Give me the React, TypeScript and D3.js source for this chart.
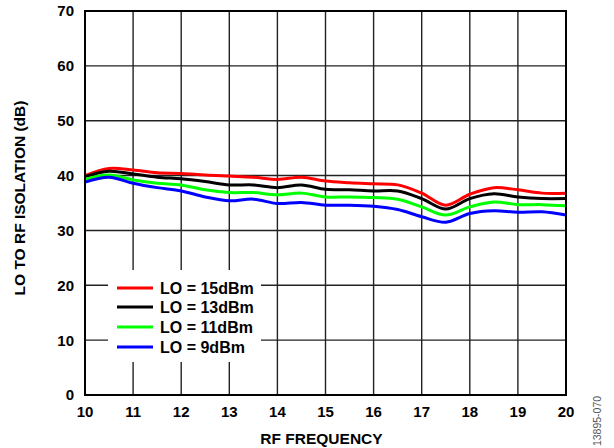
import React from "react";
import * as d3 from "d3";

const freqs = [10, 10.5, 11, 11.5, 12, 12.5, 13, 13.5, 14, 14.5, 15, 15.5, 16, 16.5, 17, 17.5, 18, 18.5, 19, 19.5, 20];
const lo15 = [40.0, 41.3, 41.0, 40.5, 40.4, 40.1, 39.9, 39.7, 39.3, 39.7, 39.0, 38.7, 38.5, 38.3, 36.8, 34.6, 36.6, 37.8, 37.4, 36.8, 36.8];
const lo13 = [39.8, 40.8, 40.3, 39.7, 39.4, 38.9, 38.3, 38.3, 37.8, 38.3, 37.5, 37.4, 37.2, 37.2, 35.8, 33.9, 35.8, 36.7, 36.1, 35.8, 35.8];
const lo11 = [39.3, 40.1, 39.2, 38.6, 38.3, 37.4, 36.9, 36.9, 36.5, 36.8, 36.1, 36.1, 36.0, 35.7, 34.3, 32.8, 34.3, 35.2, 34.7, 34.7, 34.5];
const lo9 = [38.8, 39.7, 38.6, 37.8, 37.2, 36.1, 35.4, 35.7, 34.9, 35.1, 34.6, 34.6, 34.4, 33.8, 32.5, 31.5, 33.1, 33.6, 33.3, 33.4, 32.8];

const seriesNames = ["LO = 15dBm", "LO = 13dBm", "LO = 11dBm", "LO = 9dBm"];
const seriesColors = ["#ff0000", "#000000", "#00ff00", "#0000ff"];
const seriesValues = [lo15, lo13, lo11, lo9];

const xTicks = [10, 11, 12, 13, 14, 15, 16, 17, 18, 19, 20];
const yTicks = [0, 10, 20, 30, 40, 50, 60, 70];

const FONT = "'Liberation Sans', Arial, Helvetica, sans-serif";

export default function App() {
  const W = 614, H = 448;
  const left = 85, right = 566, top = 11, bottom = 395;
  const x = d3.scaleLinear().domain([10, 20]).range([left, right]);
  const y = d3.scaleLinear().domain([0, 70]).range([bottom, top]);
  const line = d3
    .line<number>()
    .x((_, i) => x(freqs[i]))
    .y((d) => y(d))
    .curve(d3.curveCatmullRom.alpha(0.5));

  const legX1 = 117, legX2 = 153, legTextX = 160;
  const legRows = [288, 307, 327, 347];

  return (
    <svg width={W} height={H} style={{ position: "absolute", left: 0, top: 0 }}>
      <rect x={0} y={0} width={W} height={H} fill="#fff" />
      {xTicks.map((t) => (
        <line key={"vx" + t} x1={x(t)} x2={x(t)} y1={top} y2={bottom} stroke="#222" strokeWidth={1.4} />
      ))}
      {yTicks.map((t) => (
        <line key={"hy" + t} x1={left} x2={right} y1={y(t)} y2={y(t)} stroke="#222" strokeWidth={1.4} />
      ))}
      <rect x={108} y={270} width={153} height={92} fill="#fff" />
      {seriesValues.map((vals, i) => (
        <path key={"s" + i} d={line(vals) || ""} fill="none" stroke={seriesColors[i]} strokeWidth={3} />
      ))}
      <rect x={left} y={top} width={right - left} height={bottom - top} fill="none" stroke="#000" strokeWidth={2} />
      {seriesNames.map((n, i) => (
        <g key={"l" + i}>
          <line x1={legX1} x2={legX2} y1={legRows[i]} y2={legRows[i]} stroke={seriesColors[i]} strokeWidth={3} />
          <text x={legTextX} y={legRows[i]} dy="0.36em" fontFamily={FONT} fontWeight="bold" fontSize={16} fill="#000">
            {n}
          </text>
        </g>
      ))}
      {yTicks.map((t) => (
        <text key={"yl" + t} x={74} y={y(t)} dy="0.36em" textAnchor="end" fontFamily={FONT} fontWeight="bold" fontSize={15} fill="#000">
          {t}
        </text>
      ))}
      {xTicks.map((t) => (
        <text key={"xl" + t} x={x(t)} y={417} textAnchor="middle" fontFamily={FONT} fontWeight="bold" fontSize={15} fill="#000">
          {t}
        </text>
      ))}
      <text x={(left + right) / 2 - 4} y={444} textAnchor="middle" fontFamily={FONT} fontWeight="bold" fontSize={15.5} fill="#000">
        RF FREQUENCY
      </text>
      <text
        transform={`translate(25,${(top + bottom) / 2 - 5}) rotate(-90)`}
        textAnchor="middle"
        fontFamily={FONT}
        fontWeight="bold"
        fontSize={15.5}
        fill="#000"
      >
        LO TO RF ISOLATION (dB)
      </text>
      <text
        transform={`translate(601,421) rotate(-90)`}
        textAnchor="middle"
        fontFamily={FONT}
        fontSize={10.5}
        fill="#555"
      >
        13895-070
      </text>
    </svg>
  );
}
